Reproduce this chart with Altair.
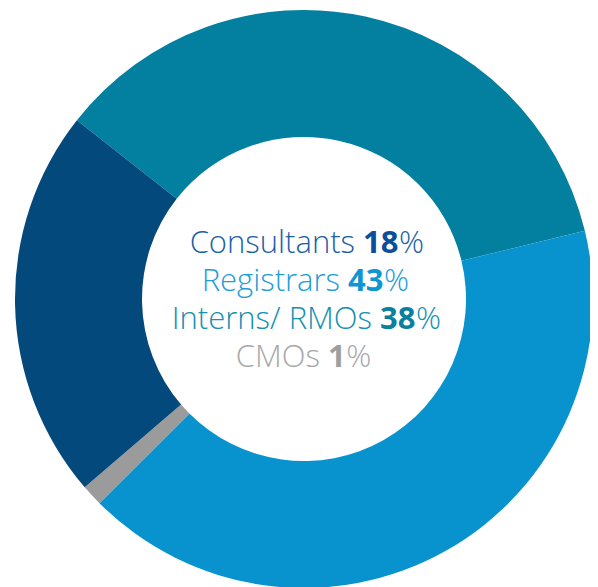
import math
import altair as alt
import pandas as pd

# ---- data -------------------------------------------------------------
# slices in drawing order (clockwise, starting at upper-left)
slice_names = ["Interns/ RMOs", "Registrars", "CMOs", "Consultants"]
slice_share = [35.6, 41.3, 1.2, 21.9]          # share of the ring as drawn
slice_colors = ["#03809F", "#0993CE", "#9B9B9B", "#04497C"]

# centre caption lines
label_names = ["Consultants", "Registrars", "Interns/ RMOs", "CMOs"]
label_values = ["18", "43", "38", "1"]
label_name_colors = ["#1A5FA6", "#1E9DD8", "#1490B0", "#A8A8A8"]
label_num_colors = ["#0B4F9C", "#0E95D3", "#0A7F9E", "#9E9E9E"]

# ---- layout -----------------------------------------------------------
W, H = 582, 579
CX, CY = 296, 291          # ring centre (view coords)
R_OUT, R_IN = 289, 162
START = math.radians(-51.8)
FS = 31
DIGIT_W = 0.572 * FS
SPACE_W = 8
num_x = [355, 340, 372, 320]      # x where the bold number starts
base_y = [245, 283, 321, 359]     # baselines

slices = pd.DataFrame({
    "name": slice_names,
    "share": slice_share,
    "color": slice_colors,
    "idx": list(range(len(slice_names))),
})

lines = pd.DataFrame({
    "name": label_names,
    "num": label_values,
    "ncol": label_name_colors,
    "vcol": label_num_colors,
    "nx": num_x,
    "by": base_y,
})
lines["name_x"] = lines["nx"] - SPACE_W
lines["pct_x"] = lines["nx"] + lines["num"].str.len() * DIGIT_W + 0.5
lines["pct"] = "%"

ring = alt.Chart(slices).mark_arc(radius=R_OUT, radius2=R_IN, stroke=None).encode(
    theta=alt.Theta("share:Q", stack=True,
                    scale=alt.Scale(domain=[0, 100], range=[START, START + 2 * math.pi])),
    color=alt.Color("color:N", scale=None),
    order=alt.Order("idx:Q"),
    x=alt.value(CX),
    y=alt.value(CY),
)

base = alt.Chart(lines)
txt = dict(font="Open Sans", fontSize=FS, baseline="alphabetic")

name_t = base.mark_text(align="right", fontWeight=300, **txt).encode(
    x=alt.X("name_x:Q", scale=None), y=alt.Y("by:Q", scale=None),
    text="name:N", color=alt.Color("ncol:N", scale=None))
num_t = base.mark_text(align="left", fontWeight="bold", **txt).encode(
    x=alt.X("nx:Q", scale=None), y=alt.Y("by:Q", scale=None),
    text="num:N", color=alt.Color("vcol:N", scale=None))
pct_t = base.mark_text(align="left", fontWeight=300, **txt).encode(
    x=alt.X("pct_x:Q", scale=None), y=alt.Y("by:Q", scale=None),
    text="pct:N", color=alt.Color("ncol:N", scale=None))

chart = alt.layer(ring, name_t, num_t, pct_t).properties(
    width=W, height=H, padding=0, autosize=alt.AutoSizeParams(type="none"),
    background="white",
).configure_view(stroke=None)

chart.save("out.html", embed_options={"renderer": "svg", "actions": False})
